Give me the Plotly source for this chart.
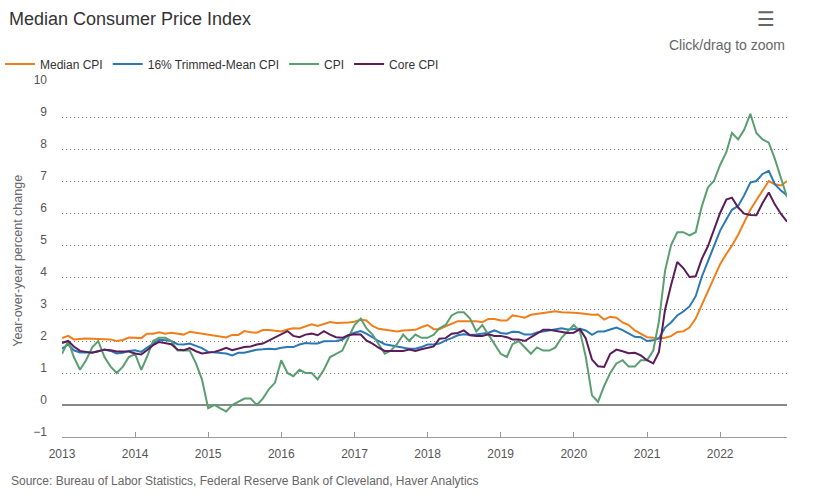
import plotly.graph_objects as go
import pandas as pd

# monthly, Jan 2013 .. Dec 2022 (year-over-year % change)
months = pd.date_range("2013-01-01", periods=120, freq="MS")

median_cpi = [
    2.09, 2.16, 2.05, 2.07, 2.08, 2.07, 2.07, 2.06, 2.05, 2.00, 2.03, 2.11,
    2.09, 2.09, 2.23, 2.23, 2.27, 2.23, 2.26, 2.23, 2.20, 2.29, 2.26, 2.22,
    2.21, 2.17, 2.14, 2.11, 2.19, 2.19, 2.31, 2.27, 2.26, 2.34, 2.34, 2.33,
    2.30, 2.36, 2.40, 2.39, 2.46, 2.52, 2.47, 2.52, 2.59, 2.56, 2.56, 2.58,
    2.60, 2.67, 2.64, 2.47, 2.38, 2.36, 2.34, 2.30, 2.33, 2.35, 2.35, 2.43,
    2.50, 2.37, 2.37, 2.46, 2.54, 2.62, 2.62, 2.62, 2.62, 2.59, 2.69, 2.69,
    2.64, 2.64, 2.80, 2.77, 2.73, 2.82, 2.85, 2.87, 2.92, 2.93, 2.90, 2.88,
    2.88, 2.87, 2.84, 2.82, 2.83, 2.67, 2.76, 2.73, 2.58, 2.50, 2.33, 2.23,
    2.12, 2.10, 2.08, 2.10, 2.15, 2.28, 2.30, 2.42, 2.70, 3.12, 3.55, 3.93,
    4.40, 4.72, 4.98, 5.32, 5.70, 6.10, 6.40, 6.70, 7.00, 6.90, 6.86, 7.00,
]

trimmed_mean_cpi = [
    1.76, 1.89, 1.71, 1.64, 1.64, 1.64, 1.68, 1.73, 1.69, 1.61, 1.63, 1.69,
    1.71, 1.66, 1.79, 1.92, 2.04, 2.02, 2.00, 1.90, 1.89, 1.92, 1.84, 1.78,
    1.66, 1.64, 1.63, 1.61, 1.55, 1.63, 1.63, 1.68, 1.73, 1.74, 1.76, 1.74,
    1.79, 1.81, 1.81, 1.89, 1.94, 1.92, 1.92, 1.99, 2.00, 2.00, 2.04, 2.18,
    2.26, 2.31, 2.23, 2.10, 2.00, 1.90, 1.87, 1.83, 1.79, 1.76, 1.76, 1.81,
    1.89, 1.89, 1.92, 2.02, 2.09, 2.18, 2.21, 2.19, 2.20, 2.23, 2.26, 2.33,
    2.25, 2.23, 2.29, 2.28, 2.20, 2.20, 2.27, 2.30, 2.33, 2.36, 2.40, 2.36,
    2.38, 2.38, 2.33, 2.19, 2.30, 2.30, 2.36, 2.42, 2.34, 2.24, 2.13, 2.12,
    2.00, 2.02, 2.08, 2.42, 2.58, 2.80, 2.92, 3.08, 3.40, 4.00, 4.50, 4.95,
    5.45, 5.80, 6.10, 6.22, 6.55, 6.95, 7.00, 7.22, 7.32, 6.90, 6.70, 6.55,
]

cpi = [
    1.6, 2.0, 1.5, 1.1, 1.4, 1.8, 2.0, 1.5, 1.2, 1.0, 1.2, 1.5,
    1.6, 1.1, 1.5, 2.0, 2.1, 2.1, 2.0, 1.7, 1.7, 1.7, 1.3, 0.8,
    -0.1, 0.0, -0.1, -0.2, 0.0, 0.1, 0.2, 0.2, 0.0, 0.2, 0.5, 0.7,
    1.4, 1.0, 0.9, 1.1, 1.0, 1.0, 0.8, 1.1, 1.5, 1.6, 1.7, 2.1,
    2.5, 2.7, 2.4, 2.2, 1.9, 1.6, 1.7, 1.9, 2.2, 2.0, 2.2, 2.1,
    2.1, 2.2, 2.4, 2.5, 2.8, 2.9, 2.9, 2.7, 2.3, 2.5, 2.2, 1.9,
    1.6, 1.5, 1.9, 2.0, 1.8, 1.6, 1.8, 1.7, 1.7, 1.8, 2.1, 2.3,
    2.5, 2.3, 1.5, 0.3, 0.1, 0.6, 1.0, 1.3, 1.4, 1.2, 1.2, 1.4,
    1.4, 1.7, 2.6, 4.2, 5.0, 5.4, 5.4, 5.3, 5.4, 6.2, 6.8, 7.0,
    7.5, 7.9, 8.5, 8.3, 8.6, 9.1, 8.5, 8.3, 8.2, 7.7, 7.1, 6.5,
]

core_cpi = [
    1.94, 2.00, 1.83, 1.69, 1.66, 1.63, 1.68, 1.73, 1.71, 1.67, 1.67, 1.67,
    1.61, 1.58, 1.71, 1.87, 1.97, 1.94, 1.90, 1.73, 1.71, 1.78, 1.68, 1.61,
    1.63, 1.66, 1.71, 1.79, 1.71, 1.76, 1.81, 1.83, 1.89, 1.92, 2.02, 2.12,
    2.23, 2.31, 2.16, 2.12, 2.20, 2.23, 2.18, 2.31, 2.20, 2.12, 2.10, 2.18,
    2.21, 2.20, 2.02, 1.92, 1.79, 1.69, 1.69, 1.69, 1.69, 1.73, 1.69, 1.74,
    1.79, 1.83, 2.07, 2.09, 2.23, 2.25, 2.33, 2.18, 2.16, 2.16, 2.21, 2.16,
    2.16, 2.12, 2.05, 2.05, 2.00, 2.12, 2.21, 2.35, 2.35, 2.31, 2.29, 2.25,
    2.26, 2.37, 2.08, 1.42, 1.21, 1.19, 1.60, 1.73, 1.68, 1.62, 1.63, 1.55,
    1.40, 1.30, 1.65, 2.98, 3.75, 4.47, 4.28, 4.00, 4.02, 4.56, 4.96, 5.45,
    6.00, 6.42, 6.48, 6.17, 5.98, 5.94, 5.93, 6.31, 6.64, 6.27, 5.97, 5.73,
]

series = [
    ("Median CPI", median_cpi, "#ef7f1a"),
    ("16% Trimmed-Mean CPI", trimmed_mean_cpi, "#2a78b4"),
    ("CPI", cpi, "#5b9e70"),
    ("Core CPI", core_cpi, "#5a1d58"),
]

font = "Liberation Sans, Arial, sans-serif"

fig = go.Figure()
for name, vals, col in series:
    fig.add_trace(go.Scatter(x=months, y=vals, name=name, mode="lines",
                             line=dict(color=col, width=2)))

fig.update_layout(
    width=831, height=499, autosize=False,
    margin=dict(l=62, r=44, t=85, b=62, autoexpand=False),
    paper_bgcolor="white", plot_bgcolor="white",
    font=dict(family=font, color="#666666", size=12),
    title=dict(text="Median Consumer Price Index", xref="container", yref="container",
               x=9/831, xanchor="left", y=1-19/499, yanchor="middle",
               font=dict(size=18, color="#333333", family=font)),
    legend=dict(orientation="h", xref="container", yref="container",
                x=0.0, xanchor="left", y=1-64/499, yanchor="middle",
                font=dict(size=12, color="#333333"), itemwidth=30,
                bgcolor="rgba(0,0,0,0)"),
    showlegend=True,
)
fig.update_xaxes(type="date", range=["2013-01-01", "2022-12-01"],
                 dtick="M12", tick0="2013-01-01", tickformat="%Y",
                 showgrid=False, showline=True, linecolor="#999999", linewidth=1,
                 ticks="inside", ticklen=5, tickcolor="#999999",
                 ticklabelstandoff=6, tickfont=dict(size=12, color="#555555"))
fig.update_yaxes(range=[-1, 10], dtick=1, tick0=0,
                 showgrid=True, gridcolor="#777777", griddash="1px,3px", gridwidth=1,
                 zeroline=True, zerolinecolor="#888888", zerolinewidth=2,
                 ticks="", ticklabelstandoff=14, ticklabelshift=-5,
                 tickfont=dict(size=12, color="#555555"))

fig.add_annotation(text="Year-over-year percent change", textangle=-90,
                   xref="paper", yref="paper", x=-0.061, y=0.5,
                   xanchor="center", yanchor="middle", showarrow=False,
                   font=dict(size=12.5, color="#666666"))
fig.add_annotation(text="Click/drag to zoom", xref="paper", yref="paper",
                   x=1, y=1.114, xanchor="right", yanchor="middle", showarrow=False,
                   font=dict(size=14, color="#666666"))
fig.add_annotation(text="\u2630", xref="paper", yref="paper",
                   x=0.971, y=1.1875, xanchor="center", yanchor="middle", showarrow=False,
                   font=dict(size=20, color="#666666", family="DejaVu Sans"))
fig.add_annotation(text="Source: Bureau of Labor Statistics, Federal Reserve Bank of Cleveland, Haver Analytics",
                   xref="paper", yref="paper", x=-0.0731, y=-0.125,
                   xanchor="left", yanchor="middle", showarrow=False,
                   font=dict(size=12, color="#666666"))

fig.write_html("out.html", config={"displayModeBar": False},
               post_script="document.body.style.margin='0';")
